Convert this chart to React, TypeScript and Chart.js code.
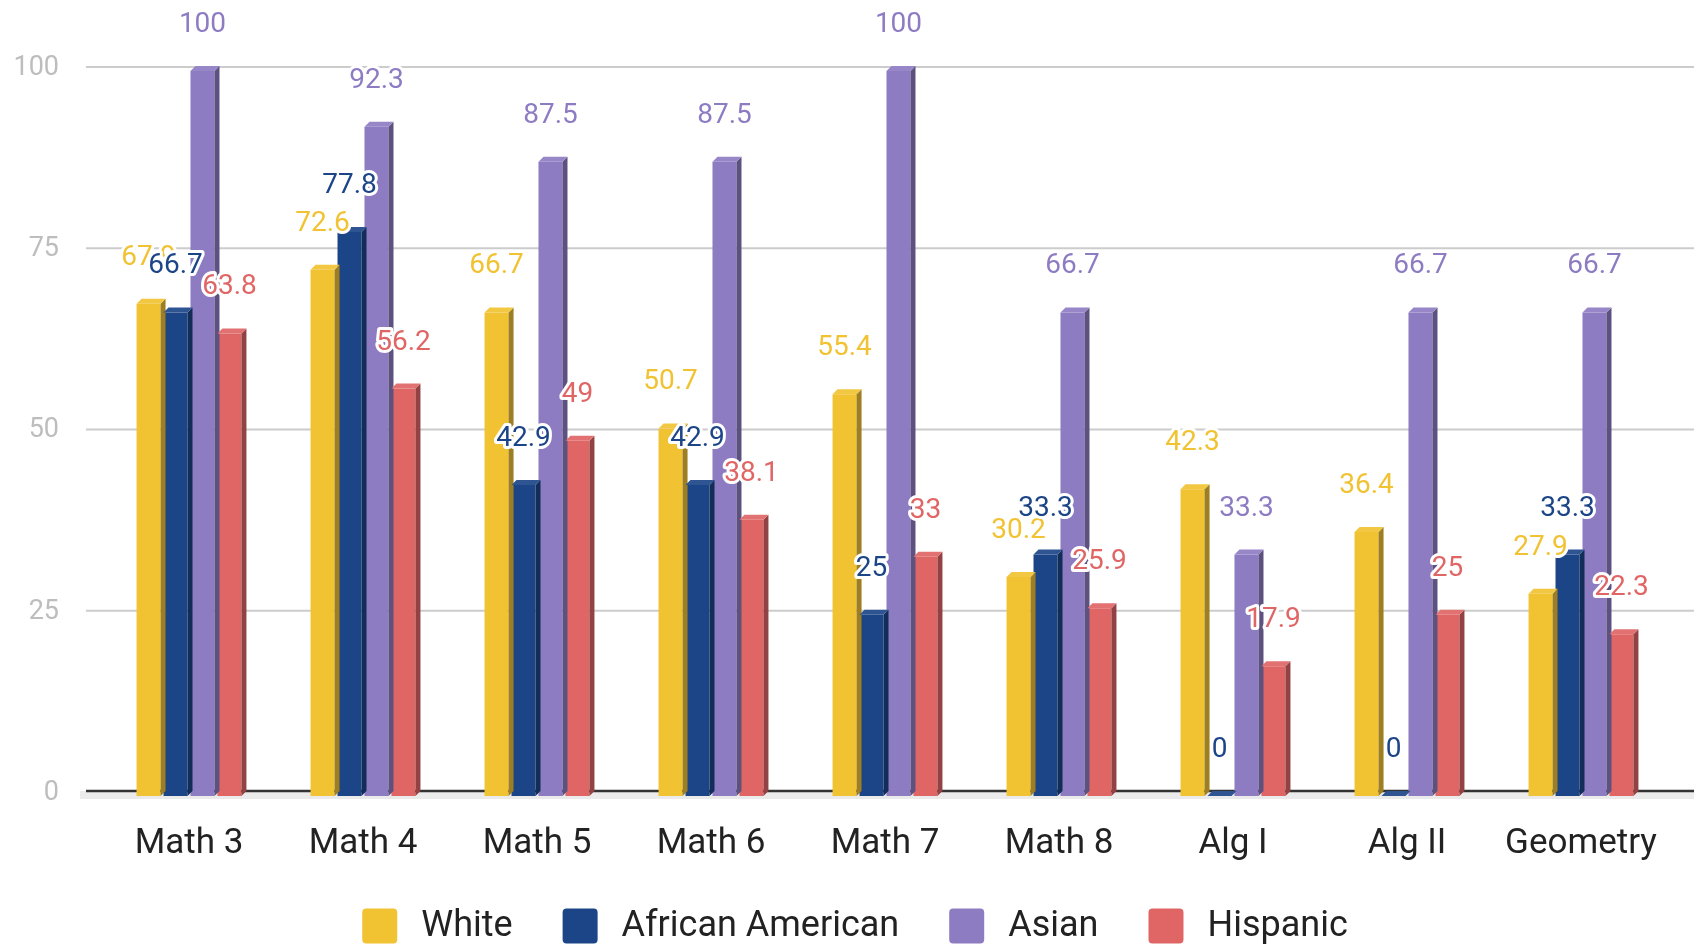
import React, { useEffect, useRef } from "react";
import { Chart, registerables } from "chart.js";

Chart.register(...registerables);

const categories = ["Math 3", "Math 4", "Math 5", "Math 6", "Math 7", "Math 8", "Alg I", "Alg II", "Geometry"];
const seriesNames = ["White", "African American", "Asian", "Hispanic"];
const whiteValues = [67.9, 72.6, 66.7, 50.7, 55.4, 30.2, 42.3, 36.4, 27.9];
const africanAmericanValues = [66.7, 77.8, 42.9, 42.9, 25, 33.3, 0, 0, 33.3];
const asianValues = [100, 92.3, 87.5, 87.5, 100, 66.7, 33.3, 66.7, 66.7];
const hispanicValues = [63.8, 56.2, 49, 38.1, 33, 25.9, 17.9, 25, 22.3];
const yTicks = [0, 25, 50, 75, 100];
const seriesColors = ["#f1c232", "#1c4587", "#8e7cc3", "#e06666"];

const DEPTH = 5;
const GRID_SHIFT = 4;
const FONT = "Roboto";

function mix(hex: string, target: number, amt: number): string {
  const n = parseInt(hex.slice(1), 16);
  const r = (n >> 16) & 255, g = (n >> 8) & 255, b = n & 255;
  const f = (c: number) => Math.round(c + (target - c) * amt);
  return `rgb(${f(r)},${f(g)},${f(b)})`;
}

function roundRect(ctx: CanvasRenderingContext2D, x: number, y: number, w: number, h: number, r: number) {
  ctx.beginPath();
  ctx.moveTo(x + r, y);
  ctx.lineTo(x + w - r, y);
  ctx.quadraticCurveTo(x + w, y, x + w, y + r);
  ctx.lineTo(x + w, y + h - r);
  ctx.quadraticCurveTo(x + w, y + h, x + w - r, y + h);
  ctx.lineTo(x + r, y + h);
  ctx.quadraticCurveTo(x, y + h, x, y + h - r);
  ctx.lineTo(x, y + r);
  ctx.quadraticCurveTo(x, y, x + r, y);
  ctx.closePath();
}

const depthPlugin = {
  id: "depth3d",
  beforeDatasetsDraw(chart: any) {
    const ctx = chart.ctx;
    const y = chart.scales.y;
    const W = chart.width;
    ctx.save();
    yTicks.forEach((v) => {
      if (v === 0) return;
      const py = y.getPixelForValue(v) - GRID_SHIFT;
      ctx.strokeStyle = "#cccccc";
      ctx.lineWidth = 2;
      ctx.beginPath();
      ctx.moveTo(86, py);
      ctx.lineTo(W, py);
      ctx.stroke();
    });
    const y0 = y.getPixelForValue(0);
    ctx.fillStyle = "#ebebeb";
    ctx.fillRect(80, y0 - DEPTH, W - 80, DEPTH + 3);
    ctx.strokeStyle = "#333333";
    ctx.lineWidth = 2.5;
    ctx.beginPath();
    ctx.moveTo(86, y0 - DEPTH);
    ctx.lineTo(W, y0 - DEPTH);
    ctx.stroke();
    ctx.restore();
  },
  afterDatasetsDraw(chart: any) {
    const ctx = chart.ctx;
    ctx.save();
    const n = chart.data.datasets.length;
    for (let i = 0; i < n; i++) {
      const meta = chart.getDatasetMeta(i);
      const col = seriesColors[i];
      meta.data.forEach((bar: any) => {
        const p = bar.getProps(["x", "y", "base", "width"], true);
        const xL = p.x - p.width / 2;
        const xR = p.x + p.width / 2;
        const yT = Math.min(p.y, p.base);
        const yB = p.base;
        ctx.fillStyle = mix(col, 0, 0.35);
        ctx.beginPath();
        ctx.moveTo(xR, yT);
        ctx.lineTo(xR + DEPTH, yT - DEPTH);
        ctx.lineTo(xR + DEPTH, yB - DEPTH);
        ctx.lineTo(xR, yB);
        ctx.closePath();
        ctx.fill();
        ctx.fillStyle = mix(col, 255, 0.08);
        ctx.beginPath();
        ctx.moveTo(xL, yT);
        ctx.lineTo(xR, yT);
        ctx.lineTo(xR + DEPTH, yT - DEPTH);
        ctx.lineTo(xL + DEPTH, yT - DEPTH);
        ctx.closePath();
        ctx.fill();
      });
    }
    ctx.font = `28px ${FONT}`;
    ctx.textAlign = "center";
    ctx.textBaseline = "middle";
    ctx.lineJoin = "round";
    for (let i = 0; i < n; i++) {
      const meta = chart.getDatasetMeta(i);
      const ds = chart.data.datasets[i];
      meta.data.forEach((bar: any, j: number) => {
        const p = bar.getProps(["x", "y", "base"], true);
        const text = String(ds.data[j]);
        const ty = Math.min(p.y, p.base) - 46;
        ctx.strokeStyle = "#ffffff";
        ctx.lineWidth = 6;
        ctx.strokeText(text, p.x, ty);
        ctx.fillStyle = seriesColors[i];
        ctx.fillText(text, p.x, ty);
      });
    }
    ctx.restore();
  },
  afterDraw(chart: any) {
    const ctx = chart.ctx;
    ctx.save();
    ctx.font = `36px ${FONT}`;
    ctx.textAlign = "left";
    ctx.textBaseline = "middle";
    const box = 35;
    const textOffset = 59;
    const gap = 50;
    const labels = chart.data.datasets.map((d: any) => d.label as string);
    const widths = labels.map((t: string) => ctx.measureText(t).width);
    const total = widths.reduce((a: number, w: number) => a + textOffset + w, 0) + gap * (labels.length - 1);
    let x = 855 - total / 2;
    const cy = 926;
    labels.forEach((t: string, i: number) => {
      ctx.fillStyle = seriesColors[i];
      roundRect(ctx, x, cy - box / 2, box, box, 4);
      ctx.fill();
      ctx.fillStyle = "#222222";
      ctx.fillText(t, x + textOffset, cy + 1);
      x += textOffset + widths[i] + gap;
    });
    ctx.restore();
  },
};

export default function App() {
  const ref = useRef<HTMLCanvasElement | null>(null);
  useEffect(() => {
    document.body.style.margin = "0";
    if (!ref.current) return;
    const values = [whiteValues, africanAmericanValues, asianValues, hispanicValues];
    const chart = new Chart(ref.current, {
      type: "bar",
      data: {
        labels: categories,
        datasets: seriesNames.map((name, i) => ({
          label: name,
          data: values[i],
          backgroundColor: seriesColors[i],
          borderWidth: 0,
          categoryPercentage: 0.62,
          barPercentage: 0.89,
        })),
      },
      options: {
        responsive: false,
        animation: false,
        devicePixelRatio: 1,
        layout: { padding: { top: 71, right: 26, bottom: 92, left: 0 } },
        scales: {
          x: {
            grid: { display: false, drawTicks: false },
            border: { display: false },
            ticks: { font: { family: FONT, size: 35 }, color: "#222222", padding: 27 },
            afterFit: (s: any) => {
              s.height = 56;
              s._computeLabelArea = () => undefined;
            },
          },
          y: {
            min: 0,
            max: 100,
            grid: { display: false, drawTicks: false },
            border: { display: false },
            ticks: {
              stepSize: 25,
              font: { family: FONT, size: 27 },
              color: "#bdbdbd",
              padding: 43,
              labelOffset: -3,
            },
            afterFit: (s: any) => {
              s.width = 102;
            },
          },
        },
        plugins: {
          legend: { display: false },
          tooltip: { enabled: false },
          title: { display: false },
        },
      },
      plugins: [depthPlugin],
    });
    return () => chart.destroy();
  }, []);
  return (
    <div style={{ width: 1694, height: 944, background: "#ffffff" }}>
      <canvas ref={ref} width={1694} height={944} />
    </div>
  );
}
